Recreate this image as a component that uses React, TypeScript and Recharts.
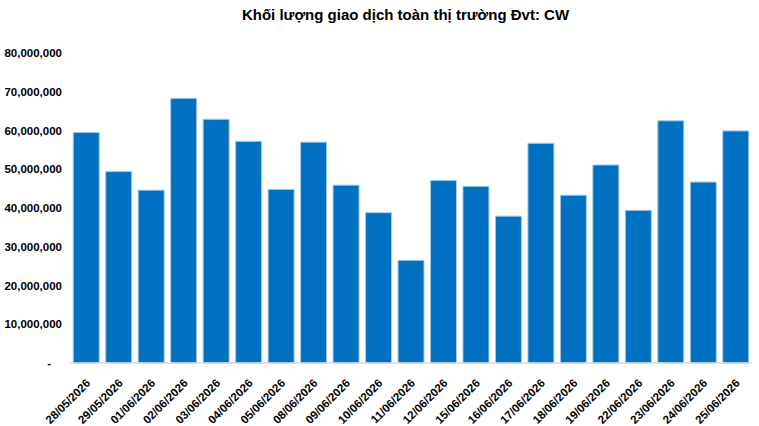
import React from "react";
import { BarChart, Bar, XAxis, YAxis } from "recharts";

const dates: string[] = [
  "28/05/2026", "29/05/2026", "01/06/2026", "02/06/2026", "03/06/2026",
  "04/06/2026", "05/06/2026", "08/06/2026", "09/06/2026", "10/06/2026",
  "11/06/2026", "12/06/2026", "15/06/2026", "16/06/2026", "17/06/2026",
  "18/06/2026", "19/06/2026", "22/06/2026", "23/06/2026", "24/06/2026",
  "25/06/2026",
];

const volumes: number[] = [
  59500000, 49400000, 44600000, 68300000, 62900000,
  57200000, 44800000, 57000000, 45900000, 38800000,
  26500000, 47100000, 45600000, 37900000, 56700000,
  43300000, 51100000, 39400000, 62500000, 46700000,
  59900000,
];

const yTicks: number[] = [0, 10000000, 20000000, 30000000, 40000000, 50000000, 60000000, 70000000, 80000000];

const data = dates.map((d, i) => ({ date: d, value: volumes[i] }));

const font = "'Liberation Sans', Arial, sans-serif";

function YTick(props: any) {
  const { x, y, payload } = props;
  const v = payload.value as number;
  const label = v === 0 ? "-" : v.toLocaleString("en-US");
  return (
    <text
      x={v === 0 ? x - 11 : x}
      y={y}
      dy={4}
      textAnchor="end"
      fontFamily={font}
      fontSize={11.5}
      fontWeight="bold"
      fill="#000"
    >
      {label}
    </text>
  );
}

function XTick(props: any) {
  const { x, y, payload } = props;
  return (
    <g transform={`translate(${x + 2},${y + 10})`}>
      <text
        x={0}
        y={0}
        dy={4}
        textAnchor="end"
        transform="rotate(-45)"
        fontFamily={font}
        fontSize={11.5}
        fontWeight="bold"
        fill="#000"
      >
        {payload.value}
      </text>
    </g>
  );
}

export default function App() {
  return (
    <div style={{ position: "absolute", left: 0, top: 0, width: 759, height: 426, background: "#fff" }}>
      <div
        style={{
          position: "absolute",
          left: 0,
          top: 6,
          width: 759,
          paddingLeft: 52,
          boxSizing: "border-box",
          textAlign: "center",
          fontFamily: font,
          fontWeight: "bold",
          fontSize: 15,
          color: "#000",
        }}
      >
        Khối lượng giao dịch toàn thị trường Đvt: CW
      </div>
      <BarChart
        width={759}
        height={426}
        data={data}
        margin={{ top: 53, right: 7, bottom: 0, left: 0 }}
        barCategoryGap="10%"
      >
        <XAxis
          dataKey="date"
          interval={0}
          height={63}
          tickLine={false}
          axisLine={{ stroke: "#d9d9d9", strokeWidth: 1.5 }}
          tick={<XTick />}
        />
        <YAxis
          width={70}
          domain={[0, 80000000]}
          ticks={yTicks}
          interval={0}
          axisLine={false}
          tickLine={false}
          tickSize={0}
          tickMargin={8}
          tick={<YTick />}
        />
        <Bar dataKey="value" fill="#0070c0" stroke="#a9c9e8" strokeWidth={1} isAnimationActive={false} />
      </BarChart>
    </div>
  );
}
